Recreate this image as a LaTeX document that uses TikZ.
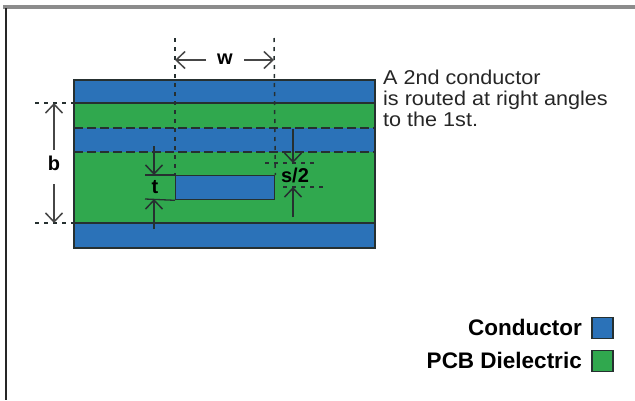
\documentclass[tikz,border=0pt]{standalone}
\usepackage{fontspec}
\setmainfont{Liberation Sans}
\newfontfamily\widefont[FakeStretch=1.08]{Liberation Sans}
\usetikzlibrary{arrows.meta}
\definecolor{cblue}{RGB}{43,114,184}
\definecolor{cgreen}{RGB}{48,168,78}
\definecolor{edge}{RGB}{38,48,48}
\definecolor{dimc}{RGB}{70,70,70}
\begin{document}
\begin{tikzpicture}[x=1pt,y=-1pt,
  layer/.style={line width=1.3pt,draw=edge},
  dashline/.style={draw=edge,line width=1.6pt,dash pattern=on 9pt off 4pt},
  dotline/.style={draw=edge,line width=1.5pt,dash pattern=on 4pt off 5pt},
  dimarrow/.style={draw=dimc,line width=1.5pt,-{Straight Barb[length=9pt,width=17pt,line width=1.5pt]}},
  dimlbl/.style={font=\fontsize{20}{20}\selectfont\bfseries,text=black,inner sep=0pt},
  legtxt/.style={font=\fontsize{22.5}{22.5}\selectfont\bfseries,anchor=base east,inner sep=0pt},
  swatch/.style={draw=edge,line width=1.3pt}]
\useasboundingbox (0,0) rectangle (635,400);
% frame
\fill[gray!90] (3,5) rectangle (635,8.5);
\fill[black!85] (4.5,8) rectangle (7,400);
% layers
\fill[cblue] (74,80) rectangle (375,248);
\fill[cgreen] (74,103) rectangle (375,128);
\fill[cgreen] (74,152) rectangle (375,223);
\draw[layer] (74,103) -- (375,103);
\draw[layer] (74,223) -- (375,223);
\draw[layer] (74,80) rectangle (375,248);
\draw[dashline] (74,128) -- (375,128);
\draw[dashline] (74,152) -- (375,152);
% strip conductor
\node[draw=edge,line width=1.3pt,fill=cblue,minimum width=99pt,minimum height=24pt,inner sep=0pt,anchor=north west] (strip) at (175,175) {};
% w dimension
\coordinate (wl) at (175,38);
\coordinate (wr) at (274,38);
\draw[dotline] (wl) -- (strip.north west);
\draw[dotline] (wr) -- (strip.north east);
\node[dimlbl] (w) at (225,59) {w};
\coordinate (wla) at (175,60);
\coordinate (wra) at (274,60);
\draw[dimarrow] (206,60) -- (wla);
\draw[dimarrow] (244,60) -- (wra);
% b dimension
\coordinate (bt) at (54,103);
\coordinate (bb) at (54,223);
\draw[dotline] (35,103) -- (74,103);
\draw[dotline] (35,223) -- (74,223);
\node[dimlbl] (b) at (54,163) {b};
\draw[dimarrow] (54,150) -- (bt);
\draw[dimarrow] (54,184) -- (bb);
% t dimension
\draw[layer] (145,175) -- (strip.north west);
\draw[layer] (145,199) -- (strip.south west);
\coordinate (tt) at (154,175);
\coordinate (tb) at (154,199);
\draw[dimarrow,draw=edge] (154,146) -- (tt);
\draw[dimarrow,draw=edge] (154,229) -- (tb);
\node[dimlbl] (t) at (155,187) {t};
% s/2 dimension
\draw[dotline] (265,163) -- (318,163);
\draw[dotline] (283,187) -- (325,187);
\coordinate (st) at (293,163);
\coordinate (sb) at (293,187);
\draw[dimarrow,draw=edge] (293,129) -- (st);
\draw[dimarrow,draw=edge] (293,217) -- (sb);
\node[dimlbl,fill=cgreen,inner sep=0.5pt] (s) at (295,175) {s/2};
% note
\node[anchor=base west,align=left,inner sep=0pt,font=\widefont\fontsize{20}{21}\selectfont,text=black!85] (note) at (383,126)
  {A 2nd conductor\\is routed at right angles\\to the 1st.};
% legend
\node[legtxt] (lc) at (582,335) {Conductor};
\node[legtxt] (ld) at (582,368) {PCB Dielectric};
\node[swatch,fill=cblue,minimum size=21pt,inner sep=0pt] (sc) at (602.5,328) {};
\node[swatch,fill=cgreen,minimum size=21pt,inner sep=0pt] (sd) at (602.5,361) {};
\end{tikzpicture}
\end{document}
